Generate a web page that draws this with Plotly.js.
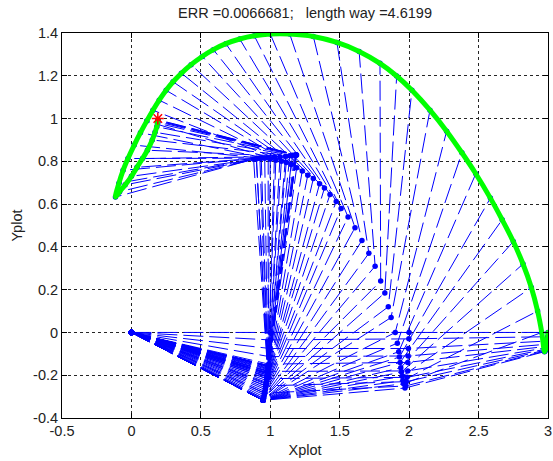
<!DOCTYPE html>
<html><head><meta charset="utf-8">
<script src="https://cdn.plot.ly/plotly-3.0.1.min.js"></script>
<style>
html,body{margin:0;padding:0;background:#fff}
#chart{width:553px;height:461px}
.effpath .js-line{stroke-linejoin:round;stroke-linecap:round}
</style>
</head><body><div id="chart"></div>
<script>
// Arm base
const baseX = 0, baseY = 0;
// Joint 1 (end of link 1) per frame
const joint1X = [1.000,0.999,0.997,0.994,0.989,0.983,0.976,0.968,0.959,0.948,
  0.948,0.948,0.948,0.948,0.948,0.948,0.948,0.948,0.948,0.948,
  0.948,0.948,0.948,0.951,0.951,0.954,0.956,0.959,0.961,0.964,
  0.966,0.968,0.970,0.971,0.972,0.974,0.976,0.978,0.978,0.979,
  0.980,0.980,0.981,0.982,0.982,0.982,0.982,0.982,0.983,0.984,
  0.985,0.985,0.986,0.987,0.987,0.987,0.988,0.988,0.988,0.988,0.988];
const joint1Y = [0.000,-0.035,-0.075,-0.113,-0.148,-0.182,-0.216,-0.250,-0.284,-0.317,
  -0.317,-0.317,-0.317,-0.317,-0.317,-0.317,-0.317,-0.317,-0.317,-0.317,
  -0.317,-0.317,-0.317,-0.309,-0.309,-0.301,-0.292,-0.284,-0.276,-0.267,
  -0.259,-0.250,-0.242,-0.238,-0.233,-0.225,-0.216,-0.208,-0.208,-0.205,
  -0.199,-0.199,-0.194,-0.191,-0.191,-0.191,-0.191,-0.187,-0.182,-0.179,
  -0.174,-0.170,-0.167,-0.163,-0.160,-0.158,-0.156,-0.156,-0.156,-0.156,-0.156];
// Joint 2 (end of link 2) per frame
const joint2X = [2.000,1.998,1.995,1.993,1.990,1.990,1.985,1.980,1.975,1.970,
  1.960,1.955,1.950,1.945,1.940,1.935,1.930,1.925,1.915,1.900,
  1.870,1.850,1.825,1.795,1.755,1.710,1.660,1.610,1.560,1.510,
  1.475,1.430,1.390,1.355,1.310,1.270,1.230,1.190,1.150,1.115,
  1.080,1.040,1.000,0.960,0.925,0.900,0.880,0.900,0.935,0.985,
  1.030,1.070,1.110,1.140,1.160,1.175,1.182,1.185,1.187,1.188,1.189];
const joint2Y = [0.000,-0.030,-0.075,-0.110,-0.140,-0.180,-0.210,-0.230,-0.250,-0.260,
  -0.240,-0.225,-0.205,-0.185,-0.165,-0.140,-0.115,-0.090,-0.050,0.000,
  0.070,0.120,0.185,0.240,0.310,0.370,0.430,0.490,0.540,0.580,
  0.612,0.645,0.675,0.695,0.720,0.735,0.755,0.770,0.785,0.795,
  0.800,0.805,0.810,0.815,0.815,0.812,0.810,0.812,0.815,0.818,
  0.820,0.822,0.824,0.826,0.828,0.829,0.830,0.830,0.830,0.830,0.830];
// End effector per frame
const effX = [3.000,2.998,2.995,2.992,2.990,2.987,2.984,2.981,2.978,2.975,
  2.955,2.925,2.880,2.820,2.750,2.670,2.585,2.480,2.380,2.270,
  2.150,2.020,1.910,1.790,1.640,1.480,1.310,1.140,1.000,0.885,
  0.780,0.680,0.590,0.510,0.430,0.360,0.300,0.250,0.200,0.155,
  0.110,0.065,0.020,-0.025,-0.060,-0.090,-0.115,-0.085,-0.045,0.000,
  0.040,0.080,0.115,0.150,0.170,0.183,0.188,0.190,0.191,0.192,0.192];
const effY = [0.000,-0.020,-0.040,-0.055,-0.065,-0.072,-0.078,-0.083,-0.087,-0.090,
  0.000,0.100,0.210,0.320,0.425,0.527,0.628,0.742,0.840,0.941,
  1.039,1.132,1.199,1.258,1.314,1.356,1.384,1.395,1.395,1.387,
  1.372,1.350,1.322,1.290,1.252,1.212,1.172,1.132,1.086,1.039,
  0.988,0.934,0.876,0.813,0.758,0.698,0.633,0.658,0.690,0.730,
  0.772,0.813,0.852,0.900,0.936,0.962,0.978,0.985,0.989,0.992,0.994];
// Target point
const targetX = [0.19], targetY = [1.0];
// Tick labels
const xTickVals = [-0.5,0,0.5,1,1.5,2,2.5,3];
const xTickText = ['-0.5','0','0.5','1','1.5','2','2.5','3'];
const yTickVals = [-0.4,-0.2,0,0.2,0.4,0.6,0.8,1,1.2,1.4];
const yTickText = ['-0.4','-0.2','0','0.2','0.4','0.6','0.8','1','1.2','1.4'];
const titleText = 'ERR =0.0066681;\u00a0\u00a0\u00a0length way =4.6199';

const armX = [], armY = [];
for (let i = 0; i < joint1X.length; i++) {
  armX.push(baseX, joint1X[i], joint2X[i], effX[i], null);
  armY.push(baseY, joint1Y[i], joint2Y[i], effY[i], null);
}

const traces = [
  {type:'scatter', x:armX, y:armY, mode:'lines+markers', connectgaps:false,
   line:{color:'#0000ff', width:1, dash:'20px,6px', simplify:false},
   marker:{color:'#0000ff', size:5.5}, hoverinfo:'skip'},
  {type:'scatter', x:effX, y:effY, mode:'lines', name:'effpath',
   line:{color:'#00ff00', width:5, shape:'spline', smoothing:1, simplify:false}, hoverinfo:'skip'},
  {type:'scatter', x:targetX, y:targetY, mode:'markers',
   marker:{symbol:'asterisk-open', size:10, color:'#ff0000', line:{color:'#ff0000', width:1.5}}, hoverinfo:'skip'}
];

const FS = 14.5;
const axisCommon = {
  ticks:'inside', ticklen:5, tickcolor:'#000', tickwidth:1,
  showline:true, linecolor:'#000', linewidth:1, mirror:'ticks',
  showgrid:true, gridcolor:'#262626', gridwidth:1, griddash:'3px,3px',
  zeroline:false, fixedrange:true, tickfont:{size:FS, color:'#222'}
};

const layout = {
  width:553, height:461,
  margin:{l:62, r:5, t:33, b:43, pad:0},
  paper_bgcolor:'#fff', plot_bgcolor:'#fff', showlegend:false,
  font:{family:'Liberation Sans, Arial, sans-serif', size:FS, color:'#222'},
  title:{text:titleText, x:0.5, xref:'paper', xanchor:'center', y:1-13/461, yref:'container', yanchor:'middle', font:{size:FS, color:'#222'}},
  xaxis:Object.assign({}, axisCommon, {range:[-0.5,3], tickmode:'array', tickvals:xTickVals, ticktext:xTickText,
    title:{text:'Xplot', standoff:6, font:{size:FS, color:'#222'}}}),
  yaxis:Object.assign({}, axisCommon, {range:[-0.4,1.4], tickmode:'array', tickvals:yTickVals, ticktext:yTickText,
    title:{text:'Yplot', standoff:7, font:{size:FS, color:'#222'}}})
};

Plotly.newPlot('chart', traces, layout, {displayModeBar:false, staticPlot:true}).then(function(gd){
  const paths = gd.querySelectorAll('.scatterlayer .trace');
  if (paths[1]) paths[1].classList.add('effpath');
});
</script>
</body></html>
